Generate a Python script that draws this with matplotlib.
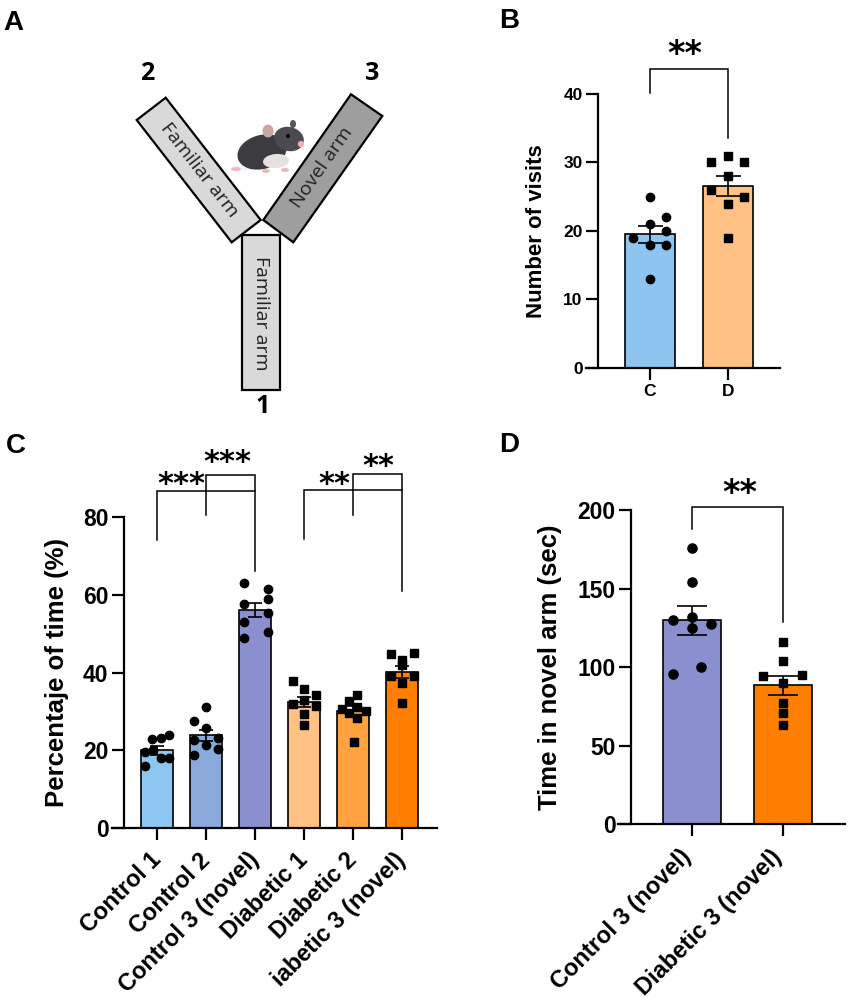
import numpy as np
import matplotlib
matplotlib.use("Agg")
import matplotlib.pyplot as plt
import matplotlib.transforms as mtransforms
from matplotlib.patches import Polygon, Rectangle, Ellipse, Circle

plt.rcParams['font.family'] = ['Liberation Sans', 'DejaVu Sans']
plt.rcParams['font.weight'] = 'bold'

W, H = 851, 1002

# ---------------- data ----------------
# Panel B
b_groups = ["C", "D"]
b_means = [19.5, 26.6]
b_sems = [1.3, 1.45]
b_ctrl_pts = [25, 22, 21, 20, 19, 18, 18, 13]
b_diab_pts = [31, 30, 30, 28, 26, 25, 24, 19]

# Panel C (last label is shown cut off in the reference)
c_groups = ["Control 1", "Control 2", "Control 3 (novel)",
            "Diabetic 1", "Diabetic 2", "iabetic 3 (novel)"]
c_means = [20.0, 23.8, 56.0, 32.5, 30.0, 40.2]
c_sems = [1.1, 1.4, 1.8, 1.3, 1.3, 1.5]
c_pts_control1 = [22.9, 23.1, 23.9, 19.5, 20.1, 18.1, 18.1, 16.0]
c_pts_control2 = [31.2, 27.5, 25.6, 22.6, 23.1, 21.3, 20.3, 18.8]
c_pts_control3 = [62.9, 61.6, 58.9, 57.5, 55.3, 53.0, 50.5, 48.9]
c_pts_diabetic1 = [37.9, 35.7, 34.2, 32.9, 31.9, 31.4, 29.3, 26.5]
c_pts_diabetic2 = [34.2, 32.6, 31.2, 30.6, 30.1, 29.5, 28.2, 22.0]
c_pts_diabetic3 = [44.7, 44.9, 43.2, 41.9, 39.2, 39.2, 37.4, 32.1]

# Panel D
d_groups = ["Control 3 (novel)", "Diabetic 3 (novel)"]
d_means = [129.8, 88.5]
d_sems = [9.2, 6.0]
d_ctrl_pts = [175.6, 154.0, 131.7, 130.0, 127.5, 124.7, 99.9, 95.7]
d_diab_pts = [115.8, 103.9, 95.0, 94.4, 89.7, 77.0, 70.6, 63.2]

# ---------------- layout (jitter offsets of points, styles) ----------------
b_off_c = [0, 0.205, 0, 0.205, -0.222, 0, 0.205, 0]
b_off_d = [0, -0.222, 0.205, 0, -0.222, 0.205, 0, 0]
c_offs = [
    [-0.095, 0.082, 0.245, -0.245, -0.075, 0.082, 0.245, -0.245],
    [0, -0.238, 0, -0.238, 0.238, 0, 0.238, -0.238],
    [-0.218, 0.258, 0.258, -0.218, 0.258, -0.218, 0.258, -0.218],
    [-0.231, 0, 0.245, 0, -0.231, 0.245, 0, 0],
    [0.088, -0.075, 0.088, -0.231, 0.265, -0.075, 0.088, 0.02],
    [-0.224, 0.245, 0, 0, -0.224, 0.245, 0, 0],
]
d_off_c = [0, 0, 0, -0.209, 0.212, 0, 0.106, -0.209]
d_off_d = [0, 0, 0.209, -0.212, 0, 0, 0, 0]

b_colors = ["#8DC5F0", "#FFC184"]
c_colors = ["#8DC7F1", "#88A9D9", "#8A8FCF", "#FFC184", "#FFA23F", "#FF8000"]
d_colors = ["#8A8FCF", "#FF8000"]

fig = plt.figure(figsize=(W / 100, H / 100), dpi=100)


def px_axes(left, right, bottom, top):
    return fig.add_axes([left / W, 1 - bottom / H, (right - left) / W, (bottom - top) / H])


def style_axes(ax, spine_x, tick_fs):
    for s in ["top", "right"]:
        ax.spines[s].set_visible(False)
    ax.spines["left"].set_position(("data", spine_x))
    ax.spines["left"].set_linewidth(1.6)
    ax.spines["bottom"].set_linewidth(1.6)
    ax.tick_params(axis="both", width=1.6, length=8.6, labelsize=tick_fs)
    ax.tick_params(axis="y", pad=2.5)
    for lab in ax.get_yticklabels():
        lab.set_fontweight("bold")


def rotated_labels(ax, labels, fs, pad, dx_px):
    ax.set_xticklabels(labels, fontsize=fs, fontweight="bold", rotation=45,
                       ha="right", va="baseline", rotation_mode="anchor")
    ax.tick_params(axis="x", pad=pad)
    off = mtransforms.ScaledTranslation(dx_px / 100, 0, fig.dpi_scale_trans)
    for lab in ax.get_xticklabels():
        lab.set_transform(lab.get_transform() + off)


def bracket(ax, x1, x2, ytop, yl, yr, lw=1.1):
    ax.plot([x1, x1, x2, x2], [yl, ytop, ytop, yr], color="black", lw=lw,
            clip_on=False, solid_joinstyle="miter", zorder=5)


def stars(ax, x, y, s, fs):
    ax.text(x, y, s, ha="center", va="center", fontsize=fs, family="DejaVu Sans",
            fontweight="bold", clip_on=False)


# ---------------- Panel A ----------------
axA = fig.add_axes([0, 1 - 431 / H, 425 / W, 431 / H])
axA.set_xlim(0, 425)
axA.set_ylim(431, 0)
axA.axis("off")
light = "#D9D9D9"
dark = "#9E9E9E"
axA.add_patch(Polygon([(136.7, 120), (165.7, 97.7), (260.7, 220), (231.7, 242.3)],
                      closed=True, fc=light, ec="black", lw=1.6, zorder=2))
axA.add_patch(Polygon([(351, 94.3), (382.3, 116), (293.3, 242.3), (263.3, 220)],
                      closed=True, fc=dark, ec="black", lw=1.6, zorder=2))
axA.add_patch(Rectangle((242, 235), 38, 155, fc=light, ec="black", lw=1.6, zorder=3))
arm_font = dict(family="Open Sans", fontweight="normal", fontsize=14, color="#222222",
                ha="center", va="center", rotation_mode="anchor")
axA.text(199, 170, "Familiar arm", rotation=-52, **arm_font)
axA.text(322, 168, "Novel arm", rotation=55, **arm_font)
axA.text(261, 313, "Familiar arm", rotation=-90, **arm_font)
num_font = dict(family="Open Sans", fontweight="bold", fontsize=18, ha="center", va="center")
axA.text(147, 74, "2", **num_font)
axA.text(372, 73, "3", **num_font)
axA.text(263, 407, "1", **num_font)
# stylised mouse
axA.add_patch(Ellipse((244, 168), 18, 5, fc="#F4F4F4", ec="none", zorder=3))
axA.add_patch(Ellipse((262, 152), 50, 34, angle=-15, fc="#3C3C40", ec="none", zorder=4))
axA.add_patch(Ellipse((276, 161), 26, 14, angle=-5, fc="#E6E2E2", ec="none", zorder=5))
axA.add_patch(Ellipse((289, 139), 30, 24, angle=15, fc="#4A4A50", ec="none", zorder=5))
axA.add_patch(Ellipse((268, 131), 11, 13, fc="#C9A6A2", ec="none", zorder=6))
axA.add_patch(Ellipse((293, 124), 6, 8, fc="#55555A", ec="none", zorder=4))
axA.add_patch(Circle((301, 144), 3.2, fc="#F2AEB8", ec="none", zorder=6))
axA.add_patch(Circle((288, 136), 2.0, fc="black", ec="none", zorder=6))
axA.add_patch(Ellipse((236, 169), 10, 4, fc="#F2B8BE", ec="none", zorder=3))
axA.add_patch(Ellipse((266, 171), 8, 4, fc="#E9B8B8", ec="none", zorder=6))
axA.add_patch(Ellipse((285, 170), 8, 4, fc="#E9B8B8", ec="none", zorder=6))

# ---------------- Panel B ----------------
axB = px_axes(586, 780, 368, 94)
xb = np.arange(len(b_groups))
axB.bar(xb, b_means, width=0.64, color=b_colors, edgecolor="black", linewidth=1.2, zorder=2)
axB.plot(xb[0] + np.array(b_off_c), b_ctrl_pts, "o", color="black", ms=6, zorder=3, clip_on=False)
axB.plot(xb[1] + np.array(b_off_d), b_diab_pts, "s", color="black", ms=5.4, zorder=3, clip_on=False)
axB.errorbar(xb, b_means, yerr=b_sems, fmt="none", ecolor="black", elinewidth=1.2,
             capsize=9, capthick=1.2, zorder=4)
axB.set_xlim(-0.8205, 1.667)
axB.set_ylim(0, 40)
axB.set_yticks([0, 10, 20, 30, 40])
axB.set_xticks(xb)
axB.set_xticklabels(b_groups, fontsize=12.5, fontweight="bold")
style_axes(axB, -0.667, 12.5)
axB.tick_params(axis="x", pad=3)
axB.set_ylabel("Number of visits", fontsize=16, fontweight="bold", va="center")
axB.yaxis.set_label_coords(-0.2526, 0.5)
bracket(axB, 0, 1, 43.6, 40.2, 33.6)
stars(axB, 0.45, 45.8, "**", 24)

# ---------------- Panel C ----------------
axC = px_axes(112, 437, 828, 517)
xc = np.arange(len(c_groups))
axC.bar(xc, c_means, width=0.64, color=c_colors, edgecolor="black", linewidth=1.2, zorder=2)
c_pts = [c_pts_control1, c_pts_control2, c_pts_control3,
         c_pts_diabetic1, c_pts_diabetic2, c_pts_diabetic3]
for i, (pts, off) in enumerate(zip(c_pts, c_offs)):
    axC.plot(xc[i] + np.array(off), pts, "o" if i < 3 else "s", color="black",
             ms=6 if i < 3 else 6.2, zorder=3, clip_on=False)
axC.errorbar(xc, c_means, yerr=c_sems, fmt="none", ecolor="black", elinewidth=1.2,
             capsize=5, capthick=1.2, zorder=4)
axC.set_xlim(-0.918, 5.714)
axC.set_ylim(0, 80)
axC.set_yticks([0, 20, 40, 60, 80])
axC.set_xticks(xc)
style_axes(axC, -0.673, 16.5)
rotated_labels(axC, c_groups, 17, 15.3, 5)
axC.set_ylabel("Percentaje of time (%)", fontsize=18.5, fontweight="bold", va="center")
axC.yaxis.set_label_coords(-0.169, 0.5)
bracket(axC, 0, 2, 86.8, 74.2, 66.0)
bracket(axC, 1, 2, 90.9, 80.4, 86.8)
bracket(axC, 3, 5, 87.0, 74.4, 60.9)
bracket(axC, 4, 5, 91.1, 80.4, 87.0)
stars(axC, 0.5, 88.4, "***", 22)
stars(axC, 1.43, 94.0, "***", 22)
stars(axC, 3.61, 88.4, "**", 22)
stars(axC, 4.51, 93.1, "**", 22)

# ---------------- Panel D ----------------
axD = px_axes(618, 845, 824.3, 510)
xd = np.arange(len(d_groups))
axD.bar(xd, d_means, width=0.64, color=d_colors, edgecolor="black", linewidth=1.2, zorder=2)
axD.plot(xd[0] + np.array(d_off_c), d_ctrl_pts, "o", color="black", ms=6.6, zorder=3, clip_on=False)
axD.plot(xd[1] + np.array(d_off_d), d_diab_pts, "s", color="black", ms=6.0, zorder=3, clip_on=False)
axD.errorbar(xd, d_means, yerr=d_sems, fmt="none", ecolor="black", elinewidth=1.2,
             capsize=11, capthick=1.2, zorder=4)
axD.set_xlim(-0.81, 1.685)
axD.set_ylim(0, 200)
axD.set_yticks([0, 50, 100, 150, 200])
axD.set_xticks(xd)
style_axes(axD, -0.667, 16.5)
rotated_labels(axD, d_groups, 17, 15.5, 0)
axD.set_ylabel("Time in novel arm (sec)", fontsize=18.5, fontweight="bold", va="center")
axD.yaxis.set_label_coords(-0.2996, 0.5)
bracket(axD, 0, 1, 202.1, 187.7, 128.5)
stars(axD, 0.53, 210.5, "**", 24)

# ---------------- panel letters ----------------
for lab, x, y in [("A", 3, 30), ("B", 499, 28), ("C", 6, 453), ("D", 499, 452)]:
    fig.text(x / W, 1 - y / H, lab, fontsize=20, fontweight="bold", ha="left", va="baseline")

fig.savefig("out.png", dpi=100)
